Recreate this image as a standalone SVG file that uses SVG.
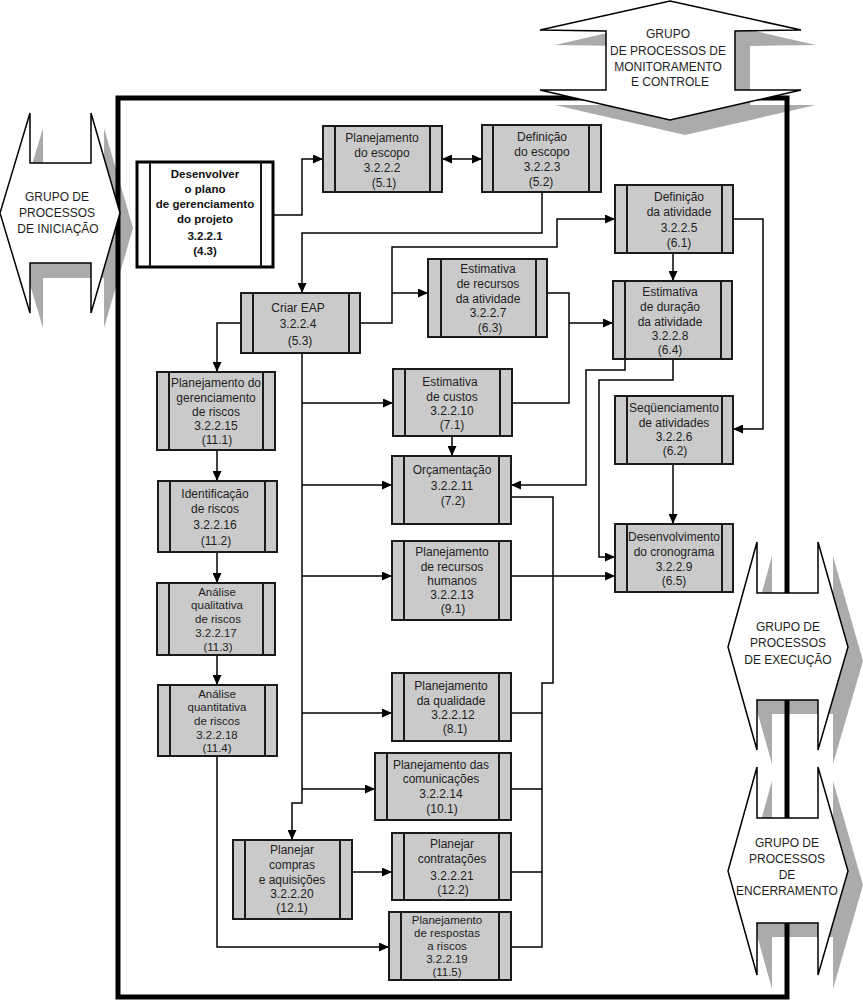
<svg xmlns="http://www.w3.org/2000/svg" width="863" height="1002" viewBox="0 0 863 1002">
<defs>
<style>
.shadow{fill:#ababab;stroke:none}
.hex{fill:#fff;stroke:#000;stroke-width:1.5}
.frame{fill:none;stroke:#000;stroke-width:5}
.box{fill:#cacaca;stroke:#1a1a1a;stroke-width:2}
.box1{fill:#fff;stroke:#000;stroke-width:3}
.bar{stroke:#1a1a1a;stroke-width:2}
.t{font-family:"Liberation Sans",Arial,sans-serif;font-size:12px;fill:#1e1e1e;text-anchor:middle}
.s{font-size:11.5px}
.tb{font-family:"Liberation Sans",Arial,sans-serif;font-size:11.5px;font-weight:bold;fill:#111;text-anchor:middle}
.c{fill:none;stroke:#000;stroke-width:1.5}
.a{marker-end:url(#ah)}
</style>
<marker id="ah" viewBox="0 0 10 9" refX="10" refY="4.5" markerWidth="10" markerHeight="9" markerUnits="userSpaceOnUse" orient="auto-start-reverse">
<path d="M0,0 L10,4.5 L0,9 z" fill="#000"/>
</marker>
</defs>

<g id="shadows">
<polygon class="shadow" transform="translate(13,15)" points="0,213 30,113 30,163 91,163 91,113 120,213 91,313 91,263 30,263 30,313"/>
<polygon class="shadow" transform="translate(15,15)" points="670,0 801,30 735,31 735,90 801,90 670,120 540,90 606,90 606,31 540,30"/>
<polygon class="shadow" transform="translate(15,14)" points="757,542 757,593 818,593 818,542 848,647 818,750 818,700 757,700 757,750 728,647"/>
<polygon class="shadow" transform="translate(15,14)" points="757,767 757,818 818,818 818,767 848,871 818,975 818,923 757,923 757,975 728,871"/>
</g>

<rect class="frame" x="118" y="98" width="669" height="899"/>

<g id="grp-iniciacao">
<polygon class="hex" points="0,213 30,113 30,163 91,163 91,113 120,213 91,313 91,263 30,263 30,313"/>
<text class="t" x="57" y="201">GRUPO DE</text>
<text class="t" x="57" y="217">PROCESSOS</text>
<text class="t" x="58" y="233">DE INICIAÇÃO</text>
</g>
<g id="grp-monitoramento">
<polygon class="hex" points="670,1 801,30 735,31 735,90 801,90 670,120 540,90 606,90 606,31 540,30"/>
<text class="t" x="668" y="38">GRUPO</text>
<text class="t" x="668" y="55">DE PROCESSOS DE</text>
<text class="t" x="668" y="71">MONITORAMENTO</text>
<text class="t" x="670" y="86">E CONTROLE</text>
</g>
<g id="grp-execucao">
<polygon class="hex" points="757,542 757,593 818,593 818,542 848,647 818,750 818,700 757,700 757,750 728,647"/>
<text class="t" x="788" y="631">GRUPO DE</text>
<text class="t" x="788" y="647">PROCESSOS</text>
<text class="t" x="788" y="664">DE EXECUÇÃO</text>
</g>
<g id="grp-encerramento">
<polygon class="hex" points="757,767 757,818 818,818 818,767 848,871 818,975 818,923 757,923 757,975 728,871"/>
<text class="t" x="787" y="847">GRUPO DE</text>
<text class="t" x="787" y="863">PROCESSOS</text>
<text class="t" x="787" y="879">DE</text>
<text class="t" x="787" y="895">ENCERRAMENTO</text>
</g>

<g id="connectors">
<path class="c a" d="M273,215 H302 V159 H323"/>
<path class="c a" style="marker-start:url(#ah)" d="M442,159 H482"/>
<path class="c a" d="M542,192 V233 H302 V293"/>
<path class="c a" d="M360,323 H392 V247 H557 V219 H615"/>
<path class="c a" d="M392,293 H428"/>
<path class="c" d="M547,293 H569 V403 H512"/>
<path class="c a" d="M569,323 H613"/>
<path class="c a" d="M673,253 V281"/>
<path class="c a" d="M733,219 H763 V429 H733"/>
<path class="c a" d="M673,464 V524"/>
<path class="c a" d="M625,359 V370 H586 V485 H511"/>
<path class="c a" d="M673,359 V380 H599 V557 H615"/>
<path class="c a" d="M511,576 H615"/>
<path class="c" d="M511,497 H553 V683 H542 V947 H511"/>
<path class="c" d="M511,713 H542 M511,789 H542 M511,872 H542"/>
<path class="c a" d="M302,353 V803 H292 V840"/>
<path class="c a" d="M302,403 H393"/>
<path class="c a" d="M302,485 H392"/>
<path class="c a" d="M302,576 H392"/>
<path class="c a" d="M302,713 H392"/>
<path class="c a" d="M302,789 H375"/>
<path class="c a" d="M241,323 H217 V372"/>
<path class="c a" d="M217,450 V481"/>
<path class="c a" d="M217,552 V583"/>
<path class="c a" d="M217,655 V685"/>
<path class="c a" d="M217,756 V947 H389"/>
<path class="c a" d="M352,872 H392"/>
<path class="c a" d="M452,436 V456"/>
</g>

<g id="n3221">
<rect class="box1" x="137" y="162" width="136" height="105"/>
<path class="bar" d="M150,162 V267 M261,162 V267"/>
<text class="tb" x="205" y="178">Desenvolver</text>
<text class="tb" x="205" y="193">o plano</text>
<text class="tb" x="205" y="208">de gerenciamento</text>
<text class="tb" x="205" y="223">do projeto</text>
<text class="tb" x="205" y="240">3.2.2.1</text>
<text class="tb" x="205" y="255">(4.3)</text>
</g>
<g id="n3222">
<rect class="box" x="323" y="126" width="119" height="66"/>
<path class="bar" d="M335,126 V192 M430,126 V192"/>
<text class="t" x="382" y="142">Planejamento</text>
<text class="t" x="382" y="157">do escopo</text>
<text class="t" x="382" y="172">3.2.2.2</text>
<text class="t" x="384" y="187">(5.1)</text>
</g>
<g id="n3223">
<rect class="box" x="482" y="125" width="119" height="67"/>
<path class="bar" d="M493,125 V192 M589,125 V192"/>
<text class="t" x="542" y="141">Definição</text>
<text class="t" x="542" y="156">do escopo</text>
<text class="t" x="542" y="171">3.2.2.3</text>
<text class="t" x="541" y="186">(5.2)</text>
</g>
<g id="n3225">
<rect class="box" x="615" y="185" width="118" height="68"/>
<path class="bar" d="M627,185 V253 M722,185 V253"/>
<text class="t" x="679" y="201">Definição</text>
<text class="t" x="679" y="216">da atividade</text>
<text class="t" x="679" y="232">3.2.2.5</text>
<text class="t" x="679" y="247">(6.1)</text>
</g>
<g id="n3227">
<rect class="box" x="428" y="259" width="119" height="78"/>
<path class="bar" d="M441,259 V337 M536,259 V337"/>
<text class="t" x="488" y="273">Estimativa</text>
<text class="t" x="488" y="288">de recursos</text>
<text class="t" x="488" y="303">da atividade</text>
<text class="t" x="488" y="317">3.2.2.7</text>
<text class="t" x="490" y="332">(6.3)</text>
</g>
<g id="n3228">
<rect class="box" x="613" y="281" width="119" height="78"/>
<path class="bar" d="M625,281 V359 M721,281 V359"/>
<text class="t" x="670" y="296">Estimativa</text>
<text class="t" x="670" y="311">de duração</text>
<text class="t" x="670" y="326">da atividade</text>
<text class="t" x="670" y="340">3.2.2.8</text>
<text class="t" x="670" y="354">(6.4)</text>
</g>
<g id="n3224">
<rect class="box" x="241" y="293" width="119" height="60"/>
<path class="bar" d="M253,293 V353 M349,293 V353"/>
<text class="t" x="298" y="312">Criar EAP</text>
<text class="t" x="298" y="328">3.2.2.4</text>
<text class="t" x="300" y="345">(5.3)</text>
</g>
<g id="n32215">
<rect class="box" x="157" y="372" width="118" height="78"/>
<path class="bar" d="M169,372 V450 M263,372 V450"/>
<text class="t" x="216" y="387">Planejamento do</text>
<text class="t" x="216" y="402">gerenciamento</text>
<text class="t" x="216" y="416">de riscos</text>
<text class="t" x="216" y="430">3.2.2.15</text>
<text class="t" x="217" y="444">(11.1)</text>
</g>
<g id="n32216">
<rect class="box" x="158" y="481" width="119" height="71"/>
<path class="bar" d="M170,481 V552 M265,481 V552"/>
<text class="t" x="215" y="498">Identificação</text>
<text class="t" x="215" y="513">de riscos</text>
<text class="t" x="215" y="529">3.2.2.16</text>
<text class="t" x="216" y="545">(11.2)</text>
</g>
<g id="n32217">
<rect class="box" x="157" y="583" width="118" height="72"/>
<path class="bar" d="M169,583 V655 M263,583 V655"/>
<text class="t s" x="217" y="596">Análise</text>
<text class="t s" x="217" y="609">qualitativa</text>
<text class="t s" x="218" y="623">de riscos</text>
<text class="t s" x="216" y="637">3.2.2.17</text>
<text class="t s" x="218" y="651">(11.3)</text>
</g>
<g id="n32218">
<rect class="box" x="158" y="685" width="119" height="71"/>
<path class="bar" d="M170,685 V756 M265,685 V756"/>
<text class="t s" x="217" y="698">Análise</text>
<text class="t s" x="217" y="711">quantitativa</text>
<text class="t s" x="217" y="725">de riscos</text>
<text class="t s" x="217" y="739">3.2.2.18</text>
<text class="t s" x="217" y="752">(11.4)</text>
</g>
<g id="n32210">
<rect class="box" x="393" y="369" width="119" height="67"/>
<path class="bar" d="M405,369 V436 M500,369 V436"/>
<text class="t" x="450" y="386">Estimativa</text>
<text class="t" x="452" y="401">de custos</text>
<text class="t" x="452" y="415">3.2.2.10</text>
<text class="t" x="452" y="429">(7.1)</text>
</g>
<g id="n32211">
<rect class="box" x="392" y="456" width="119" height="68"/>
<path class="bar" d="M404,456 V524 M499,456 V524"/>
<text class="t" x="452" y="474">Orçamentação</text>
<text class="t" x="452" y="490">3.2.2.11</text>
<text class="t" x="453" y="505">(7.2)</text>
</g>
<g id="n32213">
<rect class="box" x="392" y="541" width="119" height="79"/>
<path class="bar" d="M404,541 V620 M499,541 V620"/>
<text class="t" x="452" y="556">Planejamento</text>
<text class="t" x="452" y="571">de recursos</text>
<text class="t" x="452" y="585">humanos</text>
<text class="t" x="452" y="599">3.2.2.13</text>
<text class="t" x="453" y="613">(9.1)</text>
</g>
<g id="n3226">
<rect class="box" x="615" y="396" width="118" height="68"/>
<path class="bar" d="M627,396 V464 M722,396 V464"/>
<text class="t" x="674" y="412">Seqüenciamento</text>
<text class="t" x="674" y="427">de atividades</text>
<text class="t" x="674" y="441">3.2.2.6</text>
<text class="t" x="675" y="455">(6.2)</text>
</g>
<g id="n3229">
<rect class="box" x="615" y="524" width="118" height="68"/>
<path class="bar" d="M627,524 V592 M722,524 V592"/>
<text class="t" x="674" y="541">Desenvolvimento</text>
<text class="t" x="674" y="556">do cronograma</text>
<text class="t" x="674" y="571">3.2.2.9</text>
<text class="t" x="674" y="585">(6.5)</text>
</g>
<g id="n32212">
<rect class="box" x="392" y="673" width="119" height="68"/>
<path class="bar" d="M404,673 V741 M499,673 V741"/>
<text class="t" x="451" y="690">Planejamento</text>
<text class="t" x="451" y="705">da qualidade</text>
<text class="t" x="453" y="719">3.2.2.12</text>
<text class="t" x="455" y="733">(8.1)</text>
</g>
<g id="n32214">
<rect class="box" x="375" y="753" width="136" height="67"/>
<path class="bar" d="M387,753 V820 M499,753 V820"/>
<text class="t" x="441" y="769">Planejamento das</text>
<text class="t" x="441" y="783">comunicações</text>
<text class="t" x="441" y="798">3.2.2.14</text>
<text class="t" x="442" y="813">(10.1)</text>
</g>
<g id="n32220">
<rect class="box" x="233" y="840" width="119" height="79"/>
<path class="bar" d="M245,840 V919 M340,840 V919"/>
<text class="t" x="292" y="854">Planejar</text>
<text class="t" x="292" y="869">compras</text>
<text class="t" x="292" y="884">e aquisições</text>
<text class="t" x="292" y="898">3.2.2.20</text>
<text class="t" x="292" y="912">(12.1)</text>
</g>
<g id="n32221">
<rect class="box" x="392" y="833" width="119" height="67"/>
<path class="bar" d="M404,833 V900 M499,833 V900"/>
<text class="t" x="452" y="848">Planejar</text>
<text class="t" x="452" y="863">contratações</text>
<text class="t" x="452" y="880">3.2.2.21</text>
<text class="t" x="453" y="894">(12.2)</text>
</g>
<g id="n32219">
<rect class="box" x="389" y="912" width="122" height="68"/>
<path class="bar" d="M401,912 V980 M499,912 V980"/>
<text class="t s" x="447" y="924">Planejamento</text>
<text class="t s" x="447" y="937">de respostas</text>
<text class="t s" x="447" y="950">a riscos</text>
<text class="t s" x="447" y="963">3.2.2.19</text>
<text class="t s" x="447" y="976">(11.5)</text>
</g>
</svg>
